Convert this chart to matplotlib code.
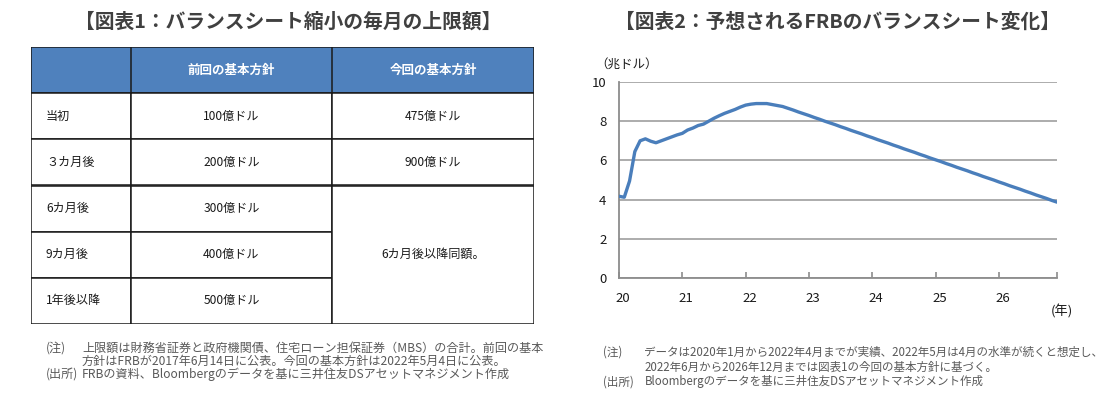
import numpy as np
import matplotlib.pyplot as plt
from matplotlib.patches import Rectangle

plt.rcParams['font.family'] = ['Noto Sans CJK JP', 'DejaVu Sans']

# 図表1：バランスシート縮小の毎月の上限額
col_headers = ['', '前回の基本方針', '今回の基本方針']
row_labels = ['当初', '３カ月後', '6カ月後', '9カ月後', '1年後以降']
prev_caps = ['100億ドル', '200億ドル', '300億ドル', '400億ドル', '500億ドル']
new_caps = ['475億ドル', '900億ドル']
new_caps_rest = '6カ月後以降同額。'

# 図表2：FRBのバランスシート（兆ドル、2020年1月～2026年12月、月次）
bs_actual = [4.17, 4.12, 4.95, 6.45, 7.00, 7.10, 6.98, 6.90, 7.00, 7.10, 7.20, 7.30,
             7.38, 7.55, 7.65, 7.78, 7.85, 8.00, 8.15, 8.28, 8.40, 8.50, 8.60, 8.72,
             8.82, 8.87, 8.90, 8.90, 8.90]
bs_projection = [8.85, 8.80, 8.75, 8.66, 8.57, 8.47, 8.38,
                 8.29, 8.19, 8.10, 8.00, 7.91, 7.82, 7.72, 7.63, 7.53, 7.44, 7.35, 7.25,
                 7.16, 7.06, 6.97, 6.88, 6.78, 6.69, 6.59, 6.50, 6.41, 6.31, 6.22, 6.12,
                 6.03, 5.94, 5.84, 5.75, 5.65, 5.56, 5.47, 5.37, 5.28, 5.18, 5.09, 5.00,
                 4.90, 4.81, 4.71, 4.62, 4.53, 4.43, 4.34, 4.24, 4.15, 4.06, 3.96, 3.87]
year_labels = ['20', '21', '22', '23', '24', '25', '26']

W, H = 1118, 397
fig = plt.figure(figsize=(W / 100, H / 100), dpi=100)

def px(x, y):
    return x / W, 1 - y / H

title_kw = dict(fontsize=14.2, fontweight='bold', color='#404040', ha='center', va='center')
note_kw = dict(fontsize=8.7, color='#595959', ha='left', va='center')
note2_kw = dict(note_kw, fontsize=8.3)

# ---- 図表1 ----
fig.text(*px(288, 22), '【図表1：バランスシート縮小の毎月の上限額】', **title_kw)

ax_t = fig.add_axes([31 / W, 1 - 324 / H, (534 - 31) / W, (324 - 47) / H])
ax_t.set_xlim(0, 503)
ax_t.set_ylim(6, 0)
ax_t.axis('off')
col_edges = [0, 100, 301, 503]
edge = '#1a1a1a'
lw = 1.1

ax_t.add_patch(Rectangle((0, 0), 503, 1, fc='#4F81BD', ec=edge, lw=lw))
for j in (1, 2):
    ax_t.plot([col_edges[j]] * 2, [0, 1], color=edge, lw=lw)
    ax_t.text((col_edges[j] + col_edges[j + 1]) / 2, 0.5, col_headers[j],
              color='white', fontsize=9, fontweight='bold', ha='center', va='center')

for i, (lab, prev) in enumerate(zip(row_labels, prev_caps)):
    r = i + 1
    for j in (0, 1):
        ax_t.add_patch(Rectangle((col_edges[j], r), col_edges[j + 1] - col_edges[j], 1,
                                 fc='white', ec=edge, lw=lw))
    ax_t.text(15, r + 0.5, lab, fontsize=8.7, color='#1a1a1a', ha='left', va='center')
    ax_t.text((col_edges[1] + col_edges[2]) / 2, r + 0.5, prev, fontsize=8.7,
              color='#1a1a1a', ha='center', va='center')

cx = (col_edges[2] + col_edges[3]) / 2
for i, v in enumerate(new_caps):
    ax_t.add_patch(Rectangle((col_edges[2], i + 1), col_edges[3] - col_edges[2], 1,
                             fc='white', ec=edge, lw=lw))
    ax_t.text(cx, i + 1.5, v, fontsize=8.7, color='#1a1a1a', ha='center', va='center')
n_rest = len(row_labels) - len(new_caps)
ax_t.add_patch(Rectangle((col_edges[2], len(new_caps) + 1), col_edges[3] - col_edges[2], n_rest,
                         fc='white', ec=edge, lw=lw))
ax_t.text(cx, len(new_caps) + 1 + n_rest / 2, new_caps_rest, fontsize=8.7,
          color='#1a1a1a', ha='center', va='center')

fig.text(*px(46, 348), '(注)', **note_kw)
fig.text(*px(82, 348), '上限額は財務省証券と政府機関債、住宅ローン担保証券（MBS）の合計。前回の基本', **note_kw)
fig.text(*px(82, 361), '方針はFRBが2017年6月14日に公表。今回の基本方針は2022年5月4日に公表。', **note_kw)
fig.text(*px(46, 374), '(出所)', **note_kw)
fig.text(*px(82, 374), 'FRBの資料、Bloombergのデータを基に三井住友DSアセットマネジメント作成', **note_kw)

# ---- 図表2 ----
fig.text(*px(837, 22), '【図表2：予想されるFRBのバランスシート変化】', **title_kw)

bs = bs_actual + bs_projection
ax = fig.add_axes([619 / W, 1 - 278 / H, (1057 - 619) / W, (278 - 82) / H])
ax.plot(np.arange(len(bs)), bs, color='#4A7EBB', lw=2.4, solid_capstyle='round', zorder=3)
ax.set_xlim(0, len(bs) - 1)
ax.set_ylim(0, 10)
ax.set_yticks(np.arange(0, 11, 2))
ax.grid(axis='y', color='#A6A6A6', lw=1.3)
ax.set_axisbelow(True)
for s in ('top', 'right'):
    ax.spines[s].set_visible(False)
for s in ('left', 'bottom'):
    ax.spines[s].set_color('#8C8C8C')
    ax.spines[s].set_linewidth(1.3)
ax.tick_params(axis='y', length=0, pad=9, labelsize=9.5, labelcolor='#1a1a1a')
ax.set_xticks(list(np.arange(len(year_labels)) * 12) + [len(bs) - 1])
ax.set_xticklabels([])
ax.tick_params(axis='x', which='major', direction='in', length=4, color='#8C8C8C', width=1.2)
ax.set_xticks(np.arange(len(year_labels)) * 12 + 0.75, minor=True)
ax.set_xticklabels(year_labels, minor=True)
ax.tick_params(axis='x', which='minor', length=0, pad=10, labelsize=9.5, labelcolor='#1a1a1a')

fig.text(*px(595, 64), '（兆ドル）', fontsize=9, color='#1a1a1a', ha='left', va='center')
fig.text(*px(1062, 311), '(年)', fontsize=9.5, color='#1a1a1a', ha='center', va='center')

fig.text(*px(603, 352), '(注)', **note2_kw)
fig.text(*px(644, 352), 'データは2020年1月から2022年4月までが実績、2022年5月は4月の水準が続くと想定し、', **note2_kw)
fig.text(*px(645, 367), '2022年6月から2026年12月までは図表1の今回の基本方針に基づく。', **note2_kw)
fig.text(*px(603, 382), '(出所)', **note2_kw)
fig.text(*px(645, 382), 'Bloombergのデータを基に三井住友DSアセットマネジメント作成', **note2_kw)

fig.savefig('out.png', dpi=100, facecolor='white')
